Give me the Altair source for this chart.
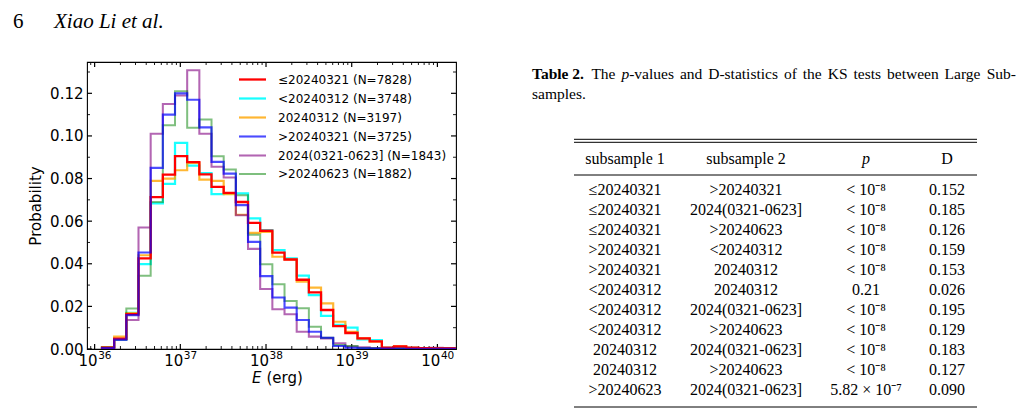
import altair as alt
import pandas as pd
import numpy as np

# ---------------- histogram data (probability per log-energy bin) ----------------
BIN_LO = 36.086      # log10 of first bin edge
BIN_W = 0.142        # bin width in dex
N_BINS = 29

series = ["≤20240321 (N=7828)", "<20240312 (N=3748)", "20240312 (N=3197)",
          ">20240321 (N=3725)", "2024(0321-0623] (N=1843)", ">20240623 (N=1882)"]
colors = ["#ff0000", "#00ffff", "#ffa500", "#0000ff", "#800080", "#008000"]
alphas = [1.0, 0.5, 0.6, 1.0, 0.6, 0.6]
widths = [2.3, 2.0, 2.0, 2.3, 2.0, 2.0]

p_le0321 = [0.0006, 0.0048, 0.0163, 0.0425, 0.0713, 0.0818, 0.0905, 0.0877, 0.0820, 0.0761,
            0.0733, 0.0690, 0.0592, 0.0555, 0.0452, 0.0420, 0.0325, 0.0266, 0.0183, 0.0107,
            0.0075, 0.0050, 0.0036, 0.0006, 0.0012, 0.0006, 0.0004, 0.0003, 0.0003]
p_lt0312 = [0.0008, 0.0045, 0.0170, 0.0398, 0.0683, 0.0775, 0.0967, 0.0861, 0.0825, 0.0727,
            0.0730, 0.0730, 0.0613, 0.0558, 0.0464, 0.0425, 0.0344, 0.0253, 0.0155, 0.0113,
            0.0100, 0.0045, 0.0042, 0.0005, 0.0008, 0.0005, 0.0003, 0.0003, 0.0002]
p_eq0312 = [0.0008, 0.0058, 0.0168, 0.0440, 0.0789, 0.0800, 0.0839, 0.0873, 0.0795, 0.0789,
            0.0727, 0.0630, 0.0545, 0.0550, 0.0433, 0.0420, 0.0316, 0.0288, 0.0214, 0.0128,
            0.0080, 0.0050, 0.0035, 0.0006, 0.0012, 0.0005, 0.0003, 0.0003, 0.0002]
p_gt0321 = [0.0005, 0.0044, 0.0159, 0.0453, 0.0850, 0.1100, 0.1200, 0.1170, 0.1040, 0.0878,
            0.0823, 0.0675, 0.0503, 0.0342, 0.0242, 0.0194, 0.0136, 0.0081, 0.0053, 0.0014,
            0.0006, 0.0003, 0.0002, 0.0002, 0.0001, 0.0001, 0.0001, 0.0001, 0.0001]
p_mid = [0.0005, 0.0045, 0.0136, 0.0570, 0.1010, 0.1150, 0.1190, 0.1308, 0.1010, 0.0855,
         0.0805, 0.0628, 0.0470, 0.0282, 0.0187, 0.0163, 0.0081, 0.0058, 0.0050, 0.0027,
         0.0012, 0.0008, 0.0005, 0.0005, 0.0005, 0.0005, 0.0005, 0.0006, 0.0005]
p_gt0623 = [0.0008, 0.0045, 0.0190, 0.0344, 0.0690, 0.1050, 0.1210, 0.1038, 0.1077, 0.0905,
            0.0842, 0.0722, 0.0536, 0.0398, 0.0304, 0.0225, 0.0191, 0.0105, 0.0053, 0.0019,
            0.0014, 0.0005, 0.0003, 0.0003, 0.0002, 0.0002, 0.0001, 0.0001, 0.0001]
values = [p_le0321, p_lt0312, p_eq0312, p_gt0321, p_mid, p_gt0623]
draw_order = [1, 2, 4, 5, 0, 3]

x_major = [1e36, 1e37, 1e38, 1e39, 1e40]
x_base = ["10", "10", "10", "10", "10"]
x_exps = ["36", "37", "38", "39", "40"]
y_major = [0.0, 0.02, 0.04, 0.06, 0.08, 0.10, 0.12]
y_minor = [0.01, 0.03, 0.05, 0.07, 0.09, 0.11, 0.13]

# ---------------- table data ----------------
caption_parts = ["Table 2.", "The", "p", "-values", "and", "D-statistics", "of", "the", "KS", "tests",
                 "between", "Large", "Sub-", "samples."]
caption_style = ["bold", "normal", "italic", "normal", "normal", "normal", "normal", "normal", "normal",
                 "normal", "normal", "normal", "normal", "normal"]
col_heads = ["subsample 1", "subsample 2", "p", "D"]
head_style = ["normal", "normal", "italic", "normal"]
sub1 = ["≤20240321", "≤20240321", "≤20240321", ">20240321", ">20240321", "<20240312",
        "<20240312", "<20240312", "20240312", "20240312", ">20240623"]
sub2 = [">20240321", "2024(0321-0623]", ">20240623", "<20240312", "20240312", "20240312",
        "2024(0321-0623]", ">20240623", "2024(0321-0623]", ">20240623", "2024(0321-0623]"]
pvals = ["< 10⁻⁸", "< 10⁻⁸", "< 10⁻⁸", "< 10⁻⁸", "< 10⁻⁸", "0.21",
         "< 10⁻⁸", "< 10⁻⁸", "< 10⁻⁸", "< 10⁻⁸", "5.82 × 10⁻⁷"]
dstat = ["0.152", "0.185", "0.126", "0.159", "0.153", "0.026", "0.195", "0.129", "0.183",
         "0.127", "0.090"]

# ---------------- layout constants ----------------
W, H = 369, 287
XDOM = [10 ** 35.911, 10 ** 40.217]
YDOM = [0, 0.1347]
SANS = "DejaVu Sans"
SERIF = "Liberation Serif"
TW, TH = 520, 350
COL_X = [120, 241, 361, 442]
RULE_X = [69, 472]
CAP_X = [27, 86.4, 116.4, 124.2, 174.9, 203.2, 279, 297.8, 322.7, 348.5, 382, 439.6, 511, 27]
CAP_ALIGN = ["left"] * 12 + ["right", "left"]
CAP_Y = [12] * 13 + [32]
TOP_RULES = [77.3, 80.3]
HEAD_Y = 96.7
HEAD_RULE = 113
ROW_Y0, ROW_DY = 128.3, 19.94
BOT_RULE = 345

# ---------------- histogram ----------------
edges = 10 ** (BIN_LO + BIN_W * np.arange(N_BINS + 1))
rows = []
for si in draw_order:
    name = series[si]
    v = values[si]
    rows.append({"s": name, "e": edges[0], "p": 0.0, "o": 0})
    for k in range(N_BINS):
        rows.append({"s": name, "e": edges[k], "p": v[k], "o": k + 1})
    rows.append({"s": name, "e": edges[N_BINS], "p": 0.0, "o": N_BINS + 1})
hist_df = pd.DataFrame(rows)

xscale = alt.Scale(type="log", domain=XDOM, nice=False)
yscale = alt.Scale(domain=YDOM, nice=False, zero=False)

leg = alt.Legend(orient="none", legendX=158, legendY=10, symbolType="M-2.25,0L2.25,0",
                 symbolSize=144, labelFont=SANS, labelFontSize=12, labelColor="black",
                 labelOffset=18, rowPadding=5, padding=0, labelLimit=400)

lines = alt.Chart(hist_df).mark_line(interpolate="step-after", clip=True).encode(
    x=alt.X("e:Q", scale=xscale, axis=None),
    y=alt.Y("p:Q", scale=yscale,
            axis=alt.Axis(values=y_major, format=".2f", ticks=False, domain=False, grid=False,
                          labelFont=SANS, labelFontSize=15, labelColor="black", labelPadding=4,
                          title="Probability", titleFont=SANS, titleFontSize=15,
                          titleFontWeight="normal", titleColor="black", titlePadding=6)),
    color=alt.Color("s:N", scale=alt.Scale(domain=series, range=colors), title=None, legend=leg),
    opacity=alt.Opacity("s:N", scale=alt.Scale(domain=series, range=alphas), title=None, legend=leg),
    strokeWidth=alt.StrokeWidth("s:N", scale=alt.Scale(domain=series, range=widths), title=None, legend=leg),
    order=alt.Order("o:Q"),
)

# inward ticks (matplotlib style) on all four sides
minor_x = [m * 10.0 ** d for d in range(35, 40) for m in range(2, 10)
           if XDOM[0] <= m * 10.0 ** d <= XDOM[1]]
xt_major = pd.DataFrame({"e": x_major, "b": x_base, "x": x_exps})
xt_minor = pd.DataFrame({"e": minor_x})
yt_major = pd.DataFrame({"p": y_major})
yt_minor = pd.DataFrame({"p": y_minor})


def xticks(df, length, sw):
    b = alt.Chart(df).mark_rule(color="black", strokeWidth=sw)
    bottom = b.encode(x=alt.X("e:Q", scale=xscale, axis=None), y=alt.value(H), y2=alt.value(H - length))
    top = b.encode(x=alt.X("e:Q", scale=xscale, axis=None), y=alt.value(0), y2=alt.value(length))
    return [bottom, top]


def yticks(df, length, sw):
    b = alt.Chart(df).mark_rule(color="black", strokeWidth=sw)
    left = b.encode(y=alt.Y("p:Q", scale=yscale), x=alt.value(0), x2=alt.value(length))
    right = b.encode(y=alt.Y("p:Q", scale=yscale), x=alt.value(W), x2=alt.value(W - length))
    return [left, right]


# x tick labels as 10 with a raised exponent
xlab_base = alt.Chart(xt_major).mark_text(font=SANS, fontSize=15, align="right", baseline="alphabetic",
                                          dx=3, color="black").encode(
    x=alt.X("e:Q", scale=xscale, axis=None), y=alt.value(H + 16.5), text="b:N")
xlab_exp = alt.Chart(xt_major).mark_text(font=SANS, fontSize=10.5, align="left", baseline="alphabetic",
                                         dx=3.5, color="black").encode(
    x=alt.X("e:Q", scale=xscale, axis=None), y=alt.value(H + 10), text="x:N")

# x axis title: italic E (erg)
xt_df = pd.DataFrame({"t": ["E"]})
xt_df2 = pd.DataFrame({"t": ["(erg)"]})
xtitle1 = alt.Chart(xt_df).mark_text(font=SANS, fontSize=15, fontStyle="italic", align="left",
                                     baseline="alphabetic", color="black").encode(
    x=alt.value(165), y=alt.value(H + 34), text="t:N")
xtitle2 = alt.Chart(xt_df2).mark_text(font=SANS, fontSize=15, align="left",
                                      baseline="alphabetic", color="black").encode(
    x=alt.value(179.5), y=alt.value(H + 34), text="t:N")

header_df = pd.DataFrame({"t": ["6"]})
header_df2 = pd.DataFrame({"t": ["Xiao Li et al."]})
head1 = alt.Chart(header_df).mark_text(font=SERIF, fontSize=21, align="left", baseline="alphabetic",
                                       color="black").encode(x=alt.value(-74), y=alt.value(-34), text="t:N")
head2 = alt.Chart(header_df2).mark_text(font=SERIF, fontSize=21, fontStyle="italic", align="left",
                                        baseline="alphabetic", color="black").encode(
    x=alt.value(-33), y=alt.value(-34), text="t:N")

hist = alt.layer(
    *xticks(xt_major, 5, 1.2), *xticks(xt_minor, 3, 0.9),
    *yticks(yt_major, 5, 1.2), *yticks(yt_minor, 3, 0.9),
    lines, xlab_base, xlab_exp, xtitle1, xtitle2, head1, head2,
).properties(width=W, height=H, view=alt.ViewBackground(stroke="black", strokeWidth=1.1))

# ---------------- table ----------------
txs = alt.Scale(domain=[0, TW], nice=False, zero=False)
tys = alt.Scale(domain=[0, TH], nice=False, zero=False, reverse=True)


def TX(f):
    return alt.X(f, scale=txs, axis=None)


def TY(f):
    return alt.Y(f, scale=tys, axis=None)


cap_df = pd.DataFrame({"x": CAP_X, "y": CAP_Y, "t": caption_parts, "st": caption_style, "al": CAP_ALIGN})
cap_layers = []
for st, al, kw in [("bold", "left", {"fontWeight": "bold"}), ("normal", "left", {}),
                   ("normal", "right", {}), ("italic", "left", {"fontStyle": "italic"})]:
    sub = cap_df[(cap_df.st == st) & (cap_df.al == al)]
    if len(sub):
        cap_layers.append(alt.Chart(sub).mark_text(font=SERIF, fontSize=15.5, align=al, baseline="middle",
                                                   color="black", **kw).encode(
            x=TX("x:Q"), y=TY("y:Q"), text="t:N"))

head_df = pd.DataFrame({"x": COL_X, "y": [HEAD_Y] * 4, "t": col_heads, "it": head_style})
head_p = alt.Chart(head_df[head_df.it == "italic"]).mark_text(
    font=SERIF, fontSize=16, fontStyle="italic", baseline="middle", color="black"
).encode(x=TX("x:Q"), y=TY("y:Q"), text="t:N")
head_n = alt.Chart(head_df[head_df.it == "normal"]).mark_text(
    font=SERIF, fontSize=16, baseline="middle", color="black"
).encode(x=TX("x:Q"), y=TY("y:Q"), text="t:N")

cells = []
for r in range(len(sub1)):
    for c, col in enumerate([sub1, sub2, pvals, dstat]):
        cells.append({"x": COL_X[c], "y": ROW_Y0 + r * ROW_DY, "t": col[r]})
body = alt.Chart(pd.DataFrame(cells)).mark_text(font=SERIF, fontSize=16, baseline="middle",
                                                color="black").encode(
    x=TX("x:Q"), y=TY("y:Q"), text="t:N")

rule_df = pd.DataFrame({"x": [RULE_X[0]] * 4, "x2": [RULE_X[1]] * 4,
                        "y": TOP_RULES + [HEAD_RULE, BOT_RULE]})
rules = alt.Chart(rule_df).mark_rule(color="black", strokeWidth=1).encode(
    x=TX("x:Q"), x2="x2:Q", y=TY("y:Q"))

table = alt.layer(*cap_layers, head_n, head_p, body, rules).properties(
    width=TW, height=TH, view=alt.ViewBackground(strokeOpacity=0))

chart = alt.hconcat(hist, table, spacing=47).properties(
    padding={"left": 12, "top": 10, "right": 0, "bottom": 0}
).configure(background="white")

chart.save("out.html", embed_options={"renderer": "svg", "actions": False})
